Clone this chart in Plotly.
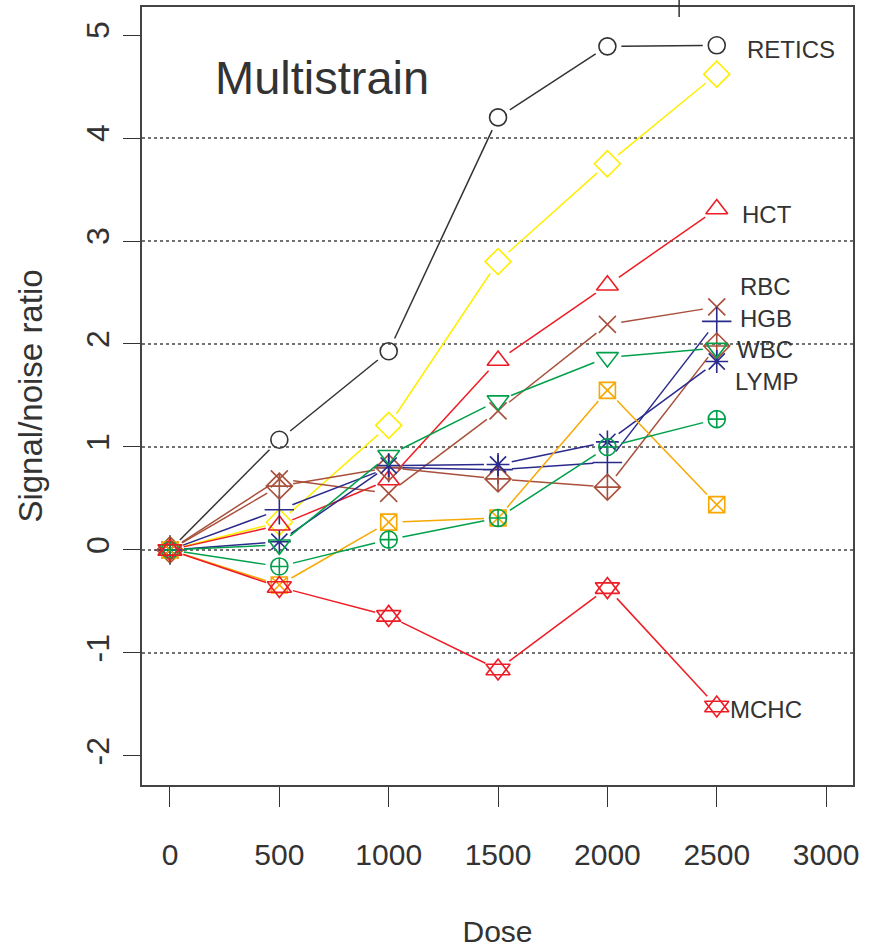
import plotly.graph_objects as go

# ---- data ----
dose = [0, 500, 1000, 1500, 2000, 2500]

retics = [0.00, 1.07, 1.93, 4.20, 4.89, 4.90]
yellow_series = [0.00, 0.27, 1.21, 2.80, 3.75, 4.62]
hct = [0.00, 0.24, 0.68, 1.84, 2.57, 3.31]
rbc = [0.00, 0.69, 0.55, 1.35, 2.19, 2.36]
hgb = [0.00, 0.39, 0.80, 0.78, 0.85, 2.22]
wbc = [0.00, 0.62, 0.80, 0.69, 0.61, 1.98]
lymp = [0.00, 0.08, 0.82, 0.83, 1.05, 1.83]
green_tri = [0.00, 0.05, 0.92, 1.45, 1.87, 1.96]
orange_sq = [0.00, -0.34, 0.27, 0.31, 1.55, 0.44]
green_circ = [0.00, -0.16, 0.10, 0.31, 1.00, 1.27]
mchc = [0.00, -0.36, -0.64, -1.16, -0.37, -1.52]

x_ticks = [0, 500, 1000, 1500, 2000, 2500, 3000]
y_ticks = [-2, -1, 0, 1, 2, 3, 4, 5]
grid_y = [-1, 0, 1, 2, 3, 4]

labels = ["RETICS", "HCT", "RBC", "HGB", "WBC", "LYMP", "MCHC"]
label_y = [4.86, 3.26, 2.56, 2.25, 1.95, 1.64, -1.55]
label_shift = [28, 23, 21, 21, 18, 16, 11]

title_text = "Multistrain"
x_title = "Dose"
y_title = "Signal/noise ratio"

# ---- styles ----
X_RANGE = [-128, 3123]
Y_RANGE = [-2.282, 5.272]
PLOT_W, PLOT_H = 711, 778
GAP = 14  # pixel gap between line ends and point centres (R type="b")

series = [
    (retics, "#333333", "circle-open", 17),
    (yellow_series, "#FFEE00", "diamond-open", 20),
    (hct, "#EE1C25", "triangle-up-open", 19),
    (rbc, "#A8503C", "x-thin-open", 17),
    (hgb, "#2A2A8C", "cross-thin-open", 21),
    (wbc, "#A8503C", "diamond-cross-open", 20),
    (lymp, "#2A2A8C", "asterisk-open", 19),
    (green_tri, "#00A04A", "triangle-down-open", 19),
    (orange_sq, "#F8A800", "square-x-open", 16),
    (green_circ, "#00A04A", "circle-cross-open", 17),
    (mchc, "#EE1C25", "triangle-up-open", 21),
]

sx = PLOT_W / (X_RANGE[1] - X_RANGE[0])
sy = PLOT_H / (Y_RANGE[1] - Y_RANGE[0])


def gapped(xs, ys):
    gx, gy = [], []
    for i in range(len(xs) - 1):
        dx = (xs[i + 1] - xs[i]) * sx
        dy = (ys[i + 1] - ys[i]) * sy
        d = (dx * dx + dy * dy) ** 0.5
        if d <= 2 * GAP:
            continue
        f = GAP / d
        gx += [xs[i] + (xs[i + 1] - xs[i]) * f, xs[i + 1] - (xs[i + 1] - xs[i]) * f, None]
        gy += [ys[i] + (ys[i + 1] - ys[i]) * f, ys[i + 1] - (ys[i + 1] - ys[i]) * f, None]
    return gx, gy


fig = go.Figure()
for vals, col, sym, sz in series:
    lx, ly = gapped(dose, vals)
    fig.add_trace(go.Scatter(x=lx, y=ly, mode="lines", line=dict(color=col, width=1.5),
                             showlegend=False, hoverinfo="skip"))
    fig.add_trace(go.Scatter(
        x=dose, y=vals, mode="markers",
        marker=dict(symbol=sym, size=sz, color=col, line=dict(color=col, width=1.6)),
        showlegend=False, hoverinfo="skip"))
# MCHC second triangle (star of David)
fig.add_trace(go.Scatter(
    x=dose, y=mchc, mode="markers",
    marker=dict(symbol="triangle-down-open", size=21, color="#EE1C25",
                line=dict(color="#EE1C25", width=1.6)),
    showlegend=False, hoverinfo="skip"))

shapes = []
for g in grid_y:
    shapes.append(dict(type="line", xref="paper", yref="y", x0=0, x1=1, y0=g, y1=g,
                       line=dict(color="#444444", width=1.5, dash="dot"), layer="below"))
# small tick artifact at the top
shapes.append(dict(type="line", xref="x", yref="paper", x0=2328, x1=2328, y0=0.987, y1=1.01,
                   line=dict(color="#333333", width=1.5)))

annotations = []
for lab, ly, sh in zip(labels, label_y, label_shift):
    annotations.append(dict(x=dose[-1], y=ly, xref="x", yref="y", text=lab,
                            showarrow=False, xanchor="left", yanchor="middle", xshift=sh,
                            font=dict(family="Liberation Sans Narrow, Arial Narrow, Liberation Sans, sans-serif",
                                      size=24, color="#333333")))
annotations.append(dict(x=0.253, y=0.91, xref="paper", yref="paper", text=title_text,
                        showarrow=False, xanchor="center", yanchor="middle",
                        font=dict(family="Liberation Sans, Arial, sans-serif", size=47,
                                  color="#333333")))

fig.update_layout(
    width=872, height=948,
    margin=dict(l=142, r=19, t=7, b=163),
    paper_bgcolor="white", plot_bgcolor="white",
    shapes=shapes, annotations=annotations,
    xaxis=dict(range=X_RANGE, tickvals=x_ticks, ticktext=[str(v) for v in x_ticks],
               automargin=False,
               ticks="outside", ticklen=20, tickwidth=1.3, tickcolor="#333333",
               showgrid=False, zeroline=False, showline=True, mirror=True,
               linecolor="#444444", linewidth=1.8, ticklabelstandoff=22,
               tickfont=dict(family="Liberation Sans Narrow, Arial Narrow, Liberation Sans, sans-serif",
                             size=30, color="#333333"),
               title=dict(text=x_title, standoff=53,
                          font=dict(family="Liberation Sans Narrow, Arial Narrow, Liberation Sans, sans-serif",
                                    size=30, color="#333333"))),
    yaxis=dict(range=Y_RANGE, tickvals=y_ticks, ticktext=[str(v) for v in y_ticks],
               automargin=False,
               ticks="outside", ticklen=17, tickwidth=1.3, tickcolor="#333333",
               tickangle=-90, showgrid=False, zeroline=False, showline=True, mirror=True,
               linecolor="#444444", linewidth=1.8, ticklabelstandoff=1,
               tickfont=dict(family="Liberation Sans, Arial, sans-serif", size=32,
                             color="#333333"),
               title=dict(text=y_title, standoff=28,
                          font=dict(family="Liberation Sans, Arial, sans-serif", size=33,
                                    color="#333333"))),
)

fig.write_html("out.html")
